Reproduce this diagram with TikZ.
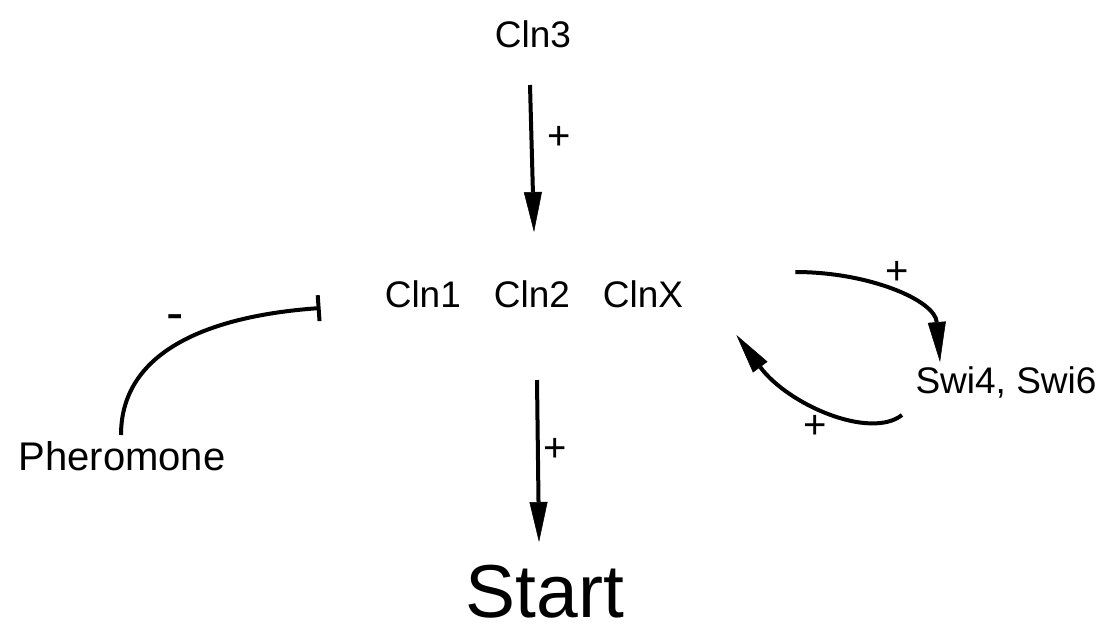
\documentclass[tikz,border=0pt]{standalone}
\usepackage{fontspec}
\setmainfont{Liberation Sans}
\usetikzlibrary{arrows.meta,calc}
\begin{document}
\begin{tikzpicture}[x=1pt,y=-1pt,
  lbl/.style={font=\fontsize{37}{40}\selectfont, inner sep=0pt, anchor=base},
  sgn/.style={font=\fontsize{40}{42}\selectfont, inner sep=0pt},
  conn/.style={line width=4pt, -{Triangle[length=40pt,width=18pt,line width=0.5pt]}},
  inhib/.style={line width=4pt, -{Bar[width=26pt]}}]
\useasboundingbox (0,0) rectangle (1115,633);
\fill[white] (0,0) rectangle (1115,633);
% nodes
\node[lbl] (cln3) at (533,47) {Cln3};
\node[lbl] (clns) at (534,307) {Cln1\hspace{33pt}Cln2\hspace{33pt}ClnX};
\node[lbl] (swi) at (1006,393) {Swi4, Swi6};
\node[lbl, font=\fontsize{40}{44}\selectfont] (pher) at (122,470) {Pheromone};
\node[lbl, font=\fontsize{75}{80}\selectfont] (start) at (545,617) {Start};
% connectors
\draw[conn] ($(cln3.base)+(-3,38)$) -- ($(clns.base)+(0,-75)$);
\draw[conn] ($(clns.base)+(3,73)$) -- ($(start.base)+(-6,-75)$);
\draw[inhib] ($(pher.base)+(-1,-35)$) .. controls ($(pher.base)+(-1,-125)$) and ($(clns.base west)+(-163,8)$) .. ($(clns.base west)+(-64,1)$);
\draw[conn] ($(clns.base east)+(112,-35)$) .. controls ($(clns.base east)+(185,-35)$) and ($(swi.base)+(-71,-93)$) .. ($(swi.base)+(-66,-31)$);
\draw[conn] ($(swi.base)+(-104,22)$) .. controls ($(swi.base)+(-136,47)$) and ($(clns.base east)+(105,98)$) .. ($(clns.base east)+(53,28)$);
% signs
\node[sgn] (p1) at (559,138) {+};
\node[sgn] (p2) at (555,450) {+};
\node[sgn] (p3) at (897,273) {+};
\node[sgn] (p4) at (815,427) {+};
\node[sgn, font=\fontsize{52}{54}\selectfont] (m1) at (175,323) {-};
\end{tikzpicture}
\end{document}
